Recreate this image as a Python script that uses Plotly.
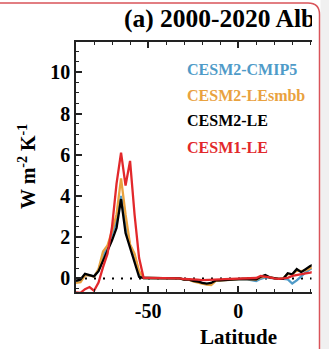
import plotly.graph_objects as go

W, H = 329, 349

# Zonal-mean albedo feedback (W m-2 K-1) on a 2.5 degree latitude grid
lat = [-90.0, -87.5, -85.0, -82.5, -80.0, -77.5, -75.0, -72.5, -70.0, -67.5,
       -65.0, -62.5, -60.0, -57.5, -55.0, -52.5, -50.0, -47.5, -45.0, -42.5,
       -40.0, -37.5, -35.0, -32.5, -30.0, -27.5, -25.0, -22.5, -20.0, -17.5,
       -15.0, -12.5, -10.0, -7.5, -5.0, -2.5, 0.0, 2.5, 5.0, 7.5,
       10.0, 12.5, 15.0, 17.5, 20.0, 22.5, 25.0, 27.5, 30.0, 32.5,
       35.0, 37.5, 40.0, 42.5]

cesm2_cmip5 = [-0.15, -0.10, 0.18, 0.15, 0.10, 0.40, 1.10, 1.50, 2.10, 2.80,
               4.00, 2.60, 1.60, 1.10, 0.25, 0.02, 0.02, 0.02, 0.02, 0.02,
               0.02, 0.02, 0.02, 0.00, -0.06, -0.05, -0.12, -0.15, -0.22, -0.28,
               -0.30, -0.10, -0.10, -0.08, -0.06, -0.05, -0.05, -0.03, -0.05, -0.08,
               -0.13, -0.02, 0.05, 0.03, 0.00, -0.02, -0.02, -0.05, -0.25, -0.10,
               0.10, 0.30, 0.45, 0.50]

cesm2_lesmbb = [-0.22, -0.18, 0.15, 0.15, 0.08, 0.45, 1.30, 1.60, 2.30, 3.10,
                4.85, 3.10, 1.65, 1.20, 0.35, 0.02, 0.02, 0.02, 0.02, 0.02,
                0.02, 0.02, 0.02, 0.00, -0.06, -0.06, -0.14, -0.18, -0.25, -0.30,
                -0.32, -0.12, -0.10, -0.08, -0.06, -0.05, -0.04, -0.02, -0.03, -0.05,
                -0.06, 0.05, 0.10, 0.05, 0.00, -0.02, 0.00, 0.22, 0.20, 0.38,
                0.35, 0.40, 0.50, 0.55]

cesm2_le = [-0.12, -0.05, 0.22, 0.15, 0.10, 0.35, 0.85, 1.30, 1.85, 2.45,
            3.85, 2.20, 1.50, 0.80, 0.08, 0.02, 0.02, 0.02, 0.02, 0.02,
            0.02, 0.02, 0.02, 0.00, -0.06, -0.05, -0.12, -0.15, -0.22, -0.25,
            -0.22, -0.10, -0.10, -0.08, -0.06, -0.05, -0.05, -0.02, -0.03, -0.05,
            -0.05, 0.08, 0.16, 0.05, 0.00, -0.02, -0.02, 0.25, 0.20, 0.45,
            0.30, 0.45, 0.60, 0.70]

cesm1_le = [-0.68, -0.70, -0.52, -0.42, -0.60, -0.20, 0.55, 1.20, 2.50, 4.60,
            6.10, 4.50, 5.70, 3.10, 1.00, 0.03, 0.03, 0.03, 0.03, 0.03,
            0.03, 0.03, 0.02, 0.00, -0.03, -0.03, -0.06, -0.06, -0.08, -0.08,
            -0.06, -0.08, -0.05, -0.04, -0.03, -0.02, 0.00, 0.00, 0.02, 0.00,
            0.02, 0.12, 0.10, 0.05, 0.00, -0.02, 0.00, 0.03, 0.12, 0.15,
            0.20, 0.24, 0.28, 0.33]

series_names = ["CESM2-CMIP5", "CESM2-LEsmbb", "CESM2-LE", "CESM1-LE"]
series_values = [cesm2_cmip5, cesm2_lesmbb, cesm2_le, cesm1_le]
series_colors = ["#4f9bc8", "#e9a23f", "#000000", "#e2282b"]

y_ticks = [0, 2, 4, 6, 8, 10]
x_ticks = [-50, 0]
x_tick_text = ["-50", "0"]
title_text = "(a) 2000-2020 Albedo Feedback"

SERIF = "Liberation Serif"
AX = "#222222"


def px_x(p):
    return p / W


def px_y(p):
    return 1 - p / H


fig = go.Figure()

for name, vals, col in zip(series_names, series_values, series_colors):
    fig.add_trace(go.Scatter(x=lat, y=vals, mode="lines", name=name,
                             line=dict(color=col, width=2.3),
                             showlegend=False, hoverinfo="skip",
                             xaxis="x", yaxis="y"))

# Panel title on its own invisible axes so it is clipped at the panel edge
fig.add_trace(go.Scatter(x=[124], y=[21], mode="text", text=[title_text],
                         textposition="middle right", cliponaxis=True,
                         textfont=dict(family=SERIF, size=25.5, color="black",
                                       weight="bold"),
                         showlegend=False, hoverinfo="skip",
                         xaxis="x2", yaxis="y2"))

fig.update_layout(
    width=W, height=H,
    margin=dict(l=0, r=0, t=0, b=0, pad=0),
    paper_bgcolor="white", plot_bgcolor="white",
    xaxis=dict(domain=[px_x(76), px_x(311.7)], range=[-90, 40.8], anchor="y",
               tickmode="array", tickvals=x_ticks, ticktext=x_tick_text,
               ticks="inside", ticklen=6, tickwidth=1.5, tickcolor=AX,
               showline=True, linecolor=AX, linewidth=1.5, mirror="ticks",
               showgrid=False, zeroline=False,
               minor=dict(dtick=10, tick0=0, ticks="inside", ticklen=3.5,
                          tickwidth=1, tickcolor=AX, showgrid=False),
               tickfont=dict(family=SERIF, size=20, color="black",
                             weight="bold")),
    yaxis=dict(domain=[px_y(292), px_y(42)], range=[-0.66, 11.47], anchor="x",
               tickmode="array", tickvals=y_ticks,
               ticktext=[str(v) for v in y_ticks],
               ticks="inside", ticklen=6, tickwidth=1.5, tickcolor=AX,
               showline=True, linecolor=AX, linewidth=1.5, mirror=False,
               showgrid=False, zeroline=False,
               minor=dict(dtick=0.5, tick0=0, ticks="inside", ticklen=3.5,
                          tickwidth=1, tickcolor=AX, showgrid=False),
               tickfont=dict(family=SERIF, size=20, color="black",
                             weight="bold")),
    xaxis2=dict(domain=[0, px_x(312)], range=[0, 312], anchor="y2",
                visible=False, fixedrange=True),
    yaxis2=dict(domain=[px_y(42), 1], range=[42, 0], anchor="x2",
                visible=False, fixedrange=True),
)

# Legend entries as coloured labels
legend_y = [69, 95, 121, 147]
for name, col, yy in zip(series_names, series_colors, legend_y):
    fig.add_annotation(text=name, xref="paper", yref="paper",
                       x=px_x(185), y=px_y(yy), xanchor="left",
                       yanchor="middle", showarrow=False,
                       font=dict(family=SERIF, size=16, color=col,
                                 weight="bold"))

# Axis titles
fig.add_annotation(text="Latitude", xref="x", yref="paper", x=0,
                   y=px_y(337), xanchor="center", yanchor="middle",
                   showarrow=False,
                   font=dict(family=SERIF, size=21, color="black",
                             weight="bold"))
fig.add_annotation(text="W m<sup>-2</sup> K<sup>-1</sup>", xref="paper",
                   yref="paper", x=px_x(27), y=px_y(167), textangle=-90,
                   xanchor="center", yanchor="middle", showarrow=False,
                   font=dict(family=SERIF, size=20, color="black",
                             weight="bold"))

# Dotted zero line
fig.add_shape(type="line", xref="x", yref="y", x0=-90, x1=40.8, y0=0, y1=0,
              line=dict(color="black", width=2, dash="2px,7px"),
              layer="below")

# Grey margin and rounded red frame around the panel
fig.add_shape(type="rect", xref="paper", yref="paper",
              x0=px_x(320.5), x1=1.01, y0=-0.01, y1=1.01,
              fillcolor="#f0f0f0", line=dict(width=0), layer="above")
frame_path = (f"M {px_x(-5)},{px_y(3)} L {px_x(308)},{px_y(3)} "
              f"Q {px_x(319.5)},{px_y(3)} {px_x(319.5)},{px_y(14.5)} "
              f"L {px_x(319.5)},{px_y(360)}")
fig.add_shape(type="path", xref="paper", yref="paper", path=frame_path,
              line=dict(color="#d9545a", width=1.5), layer="above")

fig.write_html("out.html", config={"displayModeBar": False})
